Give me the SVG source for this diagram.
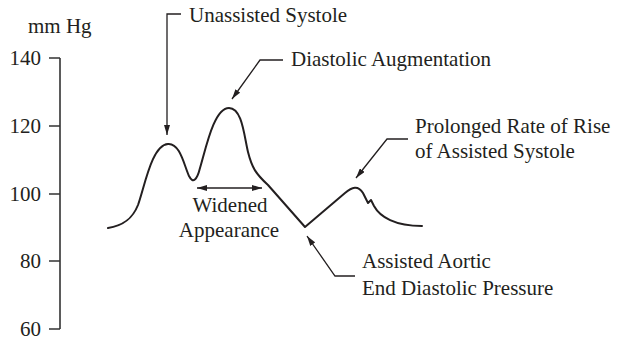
<svg xmlns="http://www.w3.org/2000/svg" width="618" height="340" viewBox="0 0 618 340">
<defs>
<marker id="ah" viewBox="0 0 10 6" refX="10" refY="3" markerWidth="10" markerHeight="6" markerUnits="userSpaceOnUse" orient="auto-start-reverse">
<path d="M0,0 L10,3 L0,6 Z" fill="#231f20"/>
</marker>
</defs>
<style>
text{font-family:"Liberation Serif","Times New Roman",serif;font-size:21px;fill:#231f20}
.ax{stroke:#333;stroke-width:1.6;fill:none}
.ld{stroke:#231f20;stroke-width:1.3;fill:none}
.cv{stroke:#231f20;stroke-width:2;fill:none;stroke-linejoin:round;stroke-linecap:round}
</style>
<g id="axis">
<path class="ax" d="M60,58 V329 M49,58 H60 M49,126 H60 M49,194 H60 M49,261 H60 M49,329 H60"/>
<text x="28" y="33">mm Hg</text>
<text x="41" y="65" text-anchor="end">140</text>
<text x="41" y="133" text-anchor="end">120</text>
<text x="41" y="201" text-anchor="end">100</text>
<text x="41" y="268" text-anchor="end">80</text>
<text x="41" y="336" text-anchor="end">60</text>
</g>
<g id="waveform">
<path class="cv" d="M108,228 C122,226 132,220 138,205 C145,185 152,145 168,144 C180,143 184,165 189,176 C193,184 197,180 200,168 C206,148 214,108 229,108 C242,108 244,135 248,152 C252,168 256,174 268,185 L305,227 L345,193 C352,187 358,185 363,193 L368,203 L371,200 L374,206 C380,217 395,226 422,226"/>
</g>
<g id="connectors">
<polyline class="ld" points="181,14 167,14 167,135" marker-end="url(#ah)"/>
<polyline class="ld" points="283,60 260,60 232,99" marker-end="url(#ah)"/>
<polyline class="ld" points="408,139 387,139 356,178" marker-end="url(#ah)"/>
<polyline class="ld" points="355,276 335,276 307,236" marker-end="url(#ah)"/>
<line class="ld" x1="197" y1="188" x2="262" y2="188" marker-start="url(#ah)" marker-end="url(#ah)"/>
</g>
<g id="label-unassisted"><text x="189" y="22">Unassisted Systole</text></g>
<g id="label-diastolic"><text x="291" y="66">Diastolic Augmentation</text></g>
<g id="label-prolonged"><text x="415" y="133">Prolonged Rate of Rise</text><text x="415" y="158">of Assisted Systole</text></g>
<g id="label-widened"><text x="230" y="212" text-anchor="middle">Widened</text><text x="229" y="237" text-anchor="middle">Appearance</text></g>
<g id="label-assisted"><text x="362" y="268">Assisted Aortic</text><text x="362" y="295">End Diastolic Pressure</text></g>
</svg>
